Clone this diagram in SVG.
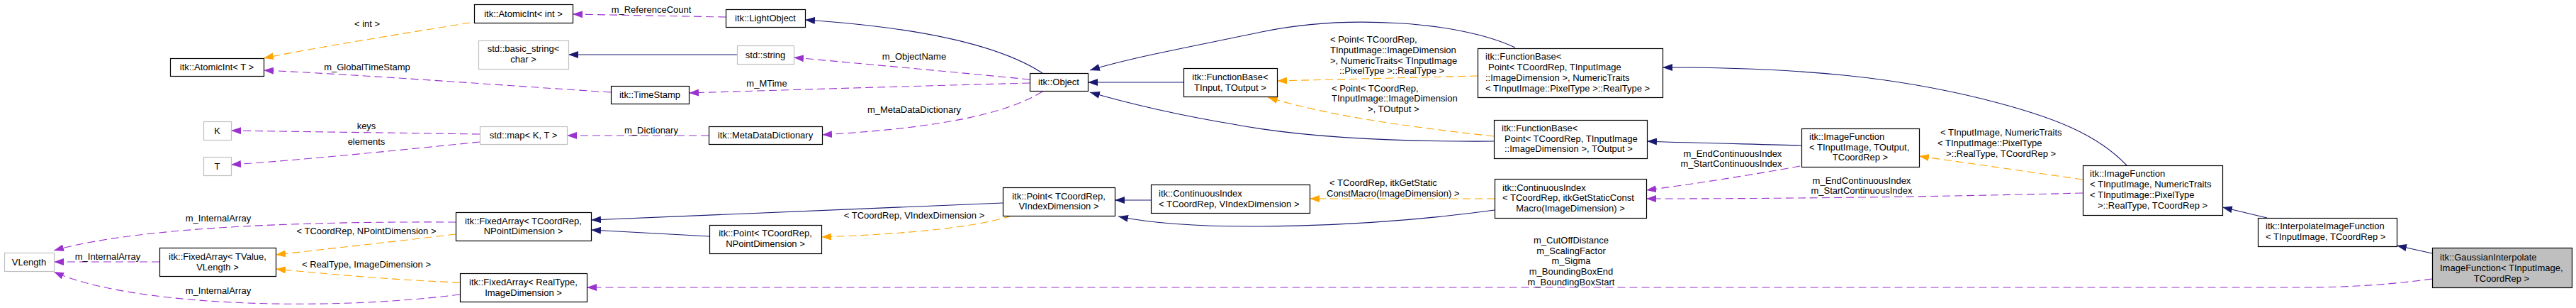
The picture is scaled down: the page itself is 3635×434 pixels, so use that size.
<svg xmlns="http://www.w3.org/2000/svg" width="3635" height="434" viewBox="0 0 3635 434">
<style>
text{font-family:"Liberation Sans",Arial,Helvetica,sans-serif;font-size:13px;fill:#000}
.m{text-anchor:middle}
.n rect{fill:#fff;stroke:#000;stroke-width:1.2}
.x rect{fill:#fff;stroke:#bfbfbf;stroke-width:1.2}
.sel rect{fill:#bfbfbf;stroke:#000;stroke-width:1.2}
.e path{fill:none;stroke-width:1.1}
.e .inh{stroke:#191970;marker-end:url(#an)}
.e .use{stroke:#9a32cd;stroke-dasharray:11,6;marker-end:url(#ap)}
.e .tpl{stroke:#ffa500;stroke-dasharray:11,6;marker-end:url(#ao)}
</style>
<defs>
<marker id="an" viewBox="0 0 14 10" refX="14" refY="5" markerWidth="14" markerHeight="10" markerUnits="userSpaceOnUse" orient="auto"><path d="M0,0L14,5L0,10z" fill="#191970"/></marker>
<marker id="ap" viewBox="0 0 14 10" refX="14" refY="5" markerWidth="14" markerHeight="10" markerUnits="userSpaceOnUse" orient="auto"><path d="M0,0L14,5L0,10z" fill="#9a32cd"/></marker>
<marker id="ao" viewBox="0 0 14 10" refX="14" refY="5" markerWidth="14" markerHeight="10" markerUnits="userSpaceOnUse" orient="auto"><path d="M0,0L14,5L0,10z" fill="#ffa500"/></marker>
</defs>
<rect width="3635" height="434" fill="#fff"/>
<g id="connectors" class="e">
<path class="tpl" d="M663,32 C590,44 450,66 372,82"/>
<path class="use" d="M862,130 C720,121 520,106 372,99"/>
<path class="use" d="M1024,24 L808,20"/>
<path class="inh" d="M1471,103 C1420,70 1320,40 1136,28"/>
<path class="inh" d="M1040,77 L802,77"/>
<path class="use" d="M1453,112 C1350,102 1220,90 1120,81"/>
<path class="use" d="M1453,117 C1300,121 1100,127 972,131"/>
<path class="use" d="M1000,191 L800,191"/>
<path class="use" d="M1471,129 C1420,160 1330,180 1160,190"/>
<path class="use" d="M677,189 L326,184"/>
<path class="use" d="M677,200 C560,212 420,226 326,232"/>
<path class="use" d="M643,313 C450,312 200,318 76,353"/>
<path class="use" d="M225,369 L76,369"/>
<path class="use" d="M649,415 C450,440 180,430 76,383"/>
<path class="tpl" d="M643,330 C560,340 450,352 389,359"/>
<path class="tpl" d="M649,398 C560,395 450,385 389,379"/>
<path class="inh" d="M1415,286 L834,310"/>
<path class="inh" d="M1001,333 L834,324"/>
<path class="tpl" d="M1427,304 C1380,320 1280,330 1159,334"/>
<path class="inh" d="M1624,282 L1573,282"/>
<path class="inh" d="M2109,296 C1950,318 1700,330 1578,305"/>
<path class="tpl" d="M2109,280 L1848,280"/>
<path class="inh" d="M1670,116 L1535,116"/>
<path class="inh" d="M2138,67 C2060,30 1900,20 1780,45 C1700,62 1600,80 1538,99"/>
<path class="inh" d="M2108,199 C1950,200 1830,192 1740,175 C1650,160 1590,145 1538,130"/>
<path class="tpl" d="M2085,107 L1802,114"/>
<path class="tpl" d="M2108,192 C2000,180 1880,165 1789,137"/>
<path class="inh" d="M3001,233 C2960,190 2900,165 2800,140 C2680,110 2550,95 2346,95"/>
<path class="inh" d="M2542,205 C2480,203 2400,202 2324,199"/>
<path class="use" d="M2540,234 C2480,245 2400,258 2323,268"/>
<path class="use" d="M2939,272 C2700,278 2500,280 2323,280"/>
<path class="tpl" d="M2939,253 L2708,220"/>
<path class="inh" d="M3199,307 L3136,292"/>
<path class="inh" d="M3432,357 L3382,346"/>
<path class="use" d="M3432,393 C3380,400 3320,405 3250,405 L828,405"/>
</g>
<g id="edge-labels">
<text class="m" x="518" y="37.5">&lt; int &gt;</text>
<text class="m" x="518" y="98.5">m_GlobalTimeStamp</text>
<text class="m" x="919" y="17.5">m_ReferenceCount</text>
<text class="m" x="1082" y="121.5">m_MTime</text>
<text class="m" x="1290" y="83.5">m_ObjectName</text>
<text class="m" x="919" y="187.5">m_Dictionary</text>
<text class="m" x="1290" y="158.5">m_MetaDataDictionary</text>
<text class="m" x="517" y="181.5">keys</text>
<text class="m" x="517" y="203.5">elements</text>
<text class="m" x="308" y="311.5">m_InternalArray</text>
<text class="m" x="517" y="329.5">&lt; TCoordRep, NPointDimension &gt;</text>
<text class="m" x="152" y="365.5">m_InternalArray</text>
<text class="m" x="517" y="376.5">&lt; RealType, ImageDimension &gt;</text>
<text class="m" x="308" y="413.5">m_InternalArray</text>
<text class="m" x="1290" y="307.5">&lt; TCoordRep, VIndexDimension &gt;</text>
<text x="1877" y="59.5">&lt; Point&lt; TCoordRep,</text>
<text x="1877" y="74.5">TInputImage::ImageDimension</text>
<text x="1877" y="89.5">&gt;, NumericTraits&lt; TInputImage</text>
<text x="1890" y="103.5">::PixelType &gt;::RealType &gt;</text>
<text x="1879" y="128.5">&lt; Point&lt; TCoordRep,</text>
<text x="1879" y="142.5">TInputImage::ImageDimension</text>
<text x="1930" y="157.5">&gt;, TOutput &gt;</text>
<text x="1876" y="261.5">&lt; TCoordRep, itkGetStatic</text>
<text x="1872" y="276.5">ConstMacro(ImageDimension) &gt;</text>
<text class="m" x="2445" y="220.5">m_EndContinuousIndex</text>
<text class="m" x="2443" y="234.5">m_StartContinuousIndex</text>
<text class="m" x="2627" y="258.5">m_EndContinuousIndex</text>
<text class="m" x="2627" y="272.5">m_StartContinuousIndex</text>
<text x="2738" y="190.5">&lt; TInputImage, NumericTraits</text>
<text x="2734" y="205.5">&lt; TInputImage::PixelType</text>
<text x="2746" y="220.5">&gt;::RealType, TCoordRep &gt;</text>
<text class="m" x="2217" y="342.5">m_CutOffDistance</text>
<text class="m" x="2217" y="357.5">m_ScalingFactor</text>
<text class="m" x="2217" y="371.5">m_Sigma</text>
<text class="m" x="2217" y="386.5">m_BoundingBoxEnd</text>
<text class="m" x="2217" y="401.5">m_BoundingBoxStart</text>
</g>
<g id="n_atomicT" class="n"><rect x="240.5" y="82.5" width="132" height="25"/><text class="m" x="306" y="99">itk::AtomicInt&lt; T &gt;</text></g>
<g id="n_atomicInt" class="n"><rect x="669.5" y="6.5" width="139" height="26"/><text class="m" x="738.5" y="24">itk::AtomicInt&lt; int &gt;</text></g>
<g id="n_lightobject" class="n"><rect x="1024.5" y="13.5" width="112" height="25"/><text class="m" x="1080" y="30">itk::LightObject</text></g>
<g id="n_basicstring" class="x"><rect x="675.5" y="57.5" width="127" height="40"/><text class="m" x="738.5" y="73">std::basic_string&lt;</text><text class="m" x="738.5" y="88">char &gt;</text></g>
<g id="n_stdstring" class="x"><rect x="1040.5" y="64.5" width="80" height="26"/><text class="m" x="1080" y="81.5">std::string</text></g>
<g id="n_timestamp" class="n"><rect x="862.5" y="121.5" width="110" height="25"/><text class="m" x="917" y="138">itk::TimeStamp</text></g>
<g id="n_K" class="x"><rect x="287.5" y="171.5" width="39" height="26"/><text class="m" x="306.5" y="188.5">K</text></g>
<g id="n_T" class="x"><rect x="287.5" y="221.5" width="39" height="26"/><text class="m" x="306.5" y="238.5">T</text></g>
<g id="n_stdmap" class="x"><rect x="677.5" y="178.5" width="123" height="25"/><text class="m" x="738.5" y="195">std::map&lt; K, T &gt;</text></g>
<g id="n_mdd" class="n"><rect x="1000.5" y="178.5" width="160" height="25"/><text class="m" x="1080" y="195">itk::MetaDataDictionary</text></g>
<g id="n_object" class="n"><rect x="1453.5" y="103.5" width="82" height="25"/><text class="m" x="1494" y="120">itk::Object</text></g>
<g id="n_fb_tio" class="n"><rect x="1670.5" y="96.5" width="132" height="40"/><text class="m" x="1736" y="112.5">itk::FunctionBase&lt;</text><text class="m" x="1736" y="127.5">TInput, TOutput &gt;</text></g>
<g id="n_fb_nt" class="n"><rect x="2085.5" y="68.5" width="261" height="69"/><text x="2096" y="83.5">itk::FunctionBase&lt;</text><text x="2100" y="98.5">Point&lt; TCoordRep, TInputImage</text><text x="2096" y="113.5">::ImageDimension &gt;, NumericTraits</text><text x="2096" y="128.5">&lt; TInputImage::PixelType &gt;::RealType &gt;</text></g>
<g id="n_fb_to" class="n"><rect x="2108.5" y="169.5" width="216" height="54"/><text x="2119" y="184.5">itk::FunctionBase&lt;</text><text x="2123" y="199.5">Point&lt; TCoordRep, TInputImage</text><text x="2123" y="213.5">::ImageDimension &gt;, TOutput &gt;</text></g>
<g id="n_ci_gs" class="n"><rect x="2109.5" y="252.5" width="214" height="55"/><text x="2120" y="268.5">itk::ContinuousIndex</text><text x="2120" y="282.5">&lt; TCoordRep, itkGetStaticConst</text><text class="m" x="2216" y="297.5">Macro(ImageDimension) &gt;</text></g>
<g id="n_if" class="n"><rect x="2542.5" y="181.5" width="166" height="54"/><text x="2553" y="196.5">itk::ImageFunction</text><text x="2553" y="211.5">&lt; TInputImage, TOutput,</text><text class="m" x="2625" y="225.5">TCoordRep &gt;</text></g>
<g id="n_if_nt" class="n"><rect x="2939.5" y="233.5" width="197" height="70"/><text x="2949" y="248.5">itk::ImageFunction</text><text x="2949" y="263.5">&lt; TInputImage, NumericTraits</text><text x="2949" y="278.5">&lt; TInputImage::PixelType</text><text x="2960" y="293.5">&gt;::RealType, TCoordRep &gt;</text></g>
<g id="n_interp" class="n"><rect x="3186.5" y="307.5" width="196" height="40"/><text x="3197" y="322.5">itk::InterpolateImageFunction</text><text x="3197" y="337.5">&lt; TInputImage, TCoordRep &gt;</text></g>
<g id="n_gauss" class="sel"><rect x="3432.5" y="349.5" width="197" height="56"/><text x="3443" y="366.5">itk::GaussianInterpolate</text><text x="3443" y="381.5">ImageFunction&lt; TInputImage,</text><text class="m" x="3530" y="396.5">TCoordRep &gt;</text></g>
<g id="n_vlength" class="x"><rect x="6.5" y="356.5" width="70" height="26"/><text class="m" x="41" y="373.5">VLength</text></g>
<g id="n_fa_tv" class="n"><rect x="225.5" y="349.5" width="164" height="40"/><text class="m" x="307" y="365.5">itk::FixedArray&lt; TValue,</text><text class="m" x="307" y="380.5">VLength &gt;</text></g>
<g id="n_fa_tc" class="n"><rect x="643.5" y="299.5" width="191" height="40"/><text class="m" x="738.5" y="315.5">itk::FixedArray&lt; TCoordRep,</text><text class="m" x="738.5" y="329.5">NPointDimension &gt;</text></g>
<g id="n_pt_np" class="n"><rect x="1001.5" y="317.5" width="158" height="40"/><text class="m" x="1080" y="332.5">itk::Point&lt; TCoordRep,</text><text class="m" x="1080" y="347.5">NPointDimension &gt;</text></g>
<g id="n_fa_rt" class="n"><rect x="649.5" y="385.5" width="179" height="40"/><text class="m" x="738.5" y="401.5">itk::FixedArray&lt; RealType,</text><text class="m" x="738.5" y="416.5">ImageDimension &gt;</text></g>
<g id="n_pt_vi" class="n"><rect x="1415.5" y="264.5" width="158" height="40"/><text class="m" x="1494" y="280.5">itk::Point&lt; TCoordRep,</text><text class="m" x="1494" y="294.5">VIndexDimension &gt;</text></g>
<g id="n_ci_vi" class="n"><rect x="1624.5" y="260.5" width="224" height="40"/><text x="1635" y="276.5">itk::ContinuousIndex</text><text x="1635" y="291.5">&lt; TCoordRep, VIndexDimension &gt;</text></g>
</svg>
